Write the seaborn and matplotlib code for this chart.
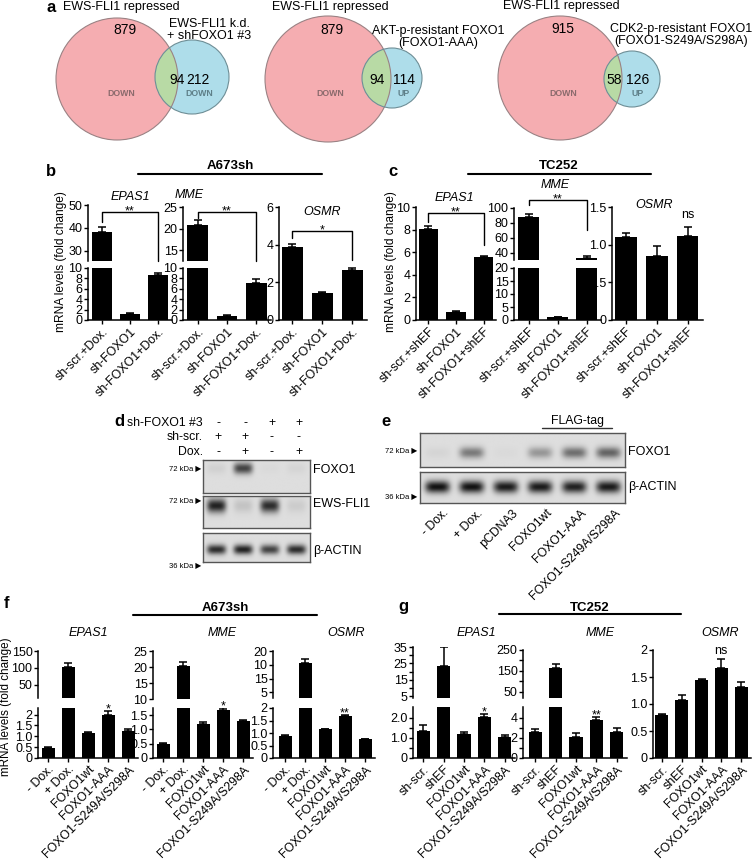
import numpy as np
import pandas as pd
import matplotlib
matplotlib.use('Agg')
import matplotlib.pyplot as plt
import seaborn as sns
from matplotlib.patches import Circle
from matplotlib.lines import Line2D

# ------------------------------------------------------------------ data
# panel a (Venn counts)
venn_left_counts = [879, 879, 915]
venn_overlap_counts = [94, 94, 58]
venn_right_counts = [212, 114, 126]
venn_left_titles = ['EWS-FLI1 repressed', 'EWS-FLI1 repressed', 'EWS-FLI1 repressed']
venn_right_titles = ['EWS-FLI1 k.d.\n+ shFOXO1 #3', 'AKT-p-resistant FOXO1\n(FOXO1-AAA)',
                     'CDK2-p-resistant FOXO1\n(FOXO1-S249A/S298A)']
venn_left_dir = ['DOWN', 'DOWN', 'DOWN']
venn_right_dir = ['DOWN', 'UP', 'UP']

# panel b  (A673sh)
b_groups = ['sh-scr.+Dox.', 'sh-FOXO1', 'sh-FOXO1+Dox.']
b_epas1 = [38.0, 1.2, 8.7]
b_epas1_err = [2.3, 0.1, 0.3]
b_mme = [20.9, 0.8, 7.1]
b_mme_err = [1.0, 0.1, 0.7]
b_osmr = [3.9, 1.45, 2.65]
b_osmr_err = [0.15, 0.06, 0.12]

# panel c  (TC252)
c_groups = ['sh-scr.+shEF', 'sh-FOXO1', 'sh-FOXO1+shEF']
c_epas1 = [8.05, 0.75, 5.55]
c_epas1_err = [0.25, 0.05, 0.15]
c_mme = [88.0, 1.0, 33.0]
c_mme_err = [4.0, 0.1, 2.5]
c_osmr = [1.10, 0.85, 1.11]
c_osmr_err = [0.05, 0.13, 0.13]

# panel f  (A673sh)
f_groups = ['- Dox.', '+ Dox.', 'FOXO1wt', 'FOXO1-AAA', 'FOXO1-S249A/S298A']
f_epas1 = [0.48, 103.0, 1.15, 2.0, 1.25]
f_epas1_err = [0.03, 10.0, 0.05, 0.17, 0.1]
f_mme = [0.48, 20.3, 1.2, 1.68, 1.28]
f_mme_err = [0.06, 1.2, 0.06, 0.08, 0.06]
f_osmr = [0.9, 15.6, 1.15, 1.68, 0.75]
f_osmr_err = [0.02, 1.5, 0.02, 0.05, 0.02]

# panel g  (TC252)
g_groups = ['sh-scr.', 'shEF', 'FOXO1wt', 'FOXO1-AAA', 'FOXO1-S249A/S298A']
g_epas1 = [1.35, 23.7, 1.22, 2.07, 1.05]
g_epas1_err = [0.3, 11.5, 0.08, 0.15, 0.08]
g_mme = [2.65, 163.0, 2.1, 3.85, 2.6]
g_mme_err = [0.25, 22.0, 0.45, 0.25, 0.4]
g_osmr = [0.79, 1.08, 1.44, 1.67, 1.32]
g_osmr_err = [0.02, 0.09, 0.03, 0.16, 0.09]

# western blots (relative band intensities per lane)
d_rows = ['sh-FOXO1 #3', 'sh-scr.', 'Dox.']
d_signs = [['-', '-', '+', '+'], ['+', '+', '-', '-'], ['-', '+', '-', '+']]
d_foxo1 = [0.06, 0.70, 0.02, 0.04]
d_ewsfli1 = [0.85, 0.12, 0.80, 0.08]
d_actin = [0.80, 0.85, 0.70, 0.80]
e_lanes = ['- Dox.', '+ Dox.', 'pCDNA3', 'FOXO1wt', 'FOXO1-AAA', 'FOXO1-S249A/S298A']
e_foxo1 = [0.04, 0.45, 0.02, 0.32, 0.50, 0.55]
e_actin = [0.92, 0.92, 0.88, 0.88, 0.85, 0.88]

# ------------------------------------------------------------------ style
sns.set_style('ticks')
plt.rcParams['font.family'] = ['Liberation Sans', 'DejaVu Sans']
plt.rcParams.update({
    'axes.linewidth': 1.1, 'axes.edgecolor': 'black',
    'xtick.color': 'black', 'ytick.color': 'black',
    'xtick.major.width': 1.0, 'ytick.major.width': 1.0,
    'xtick.major.size': 3, 'ytick.major.size': 3,
    'xtick.major.pad': 1, 'ytick.major.pad': 1,
    'text.color': 'black',
})

W, H = 752, 860
fig = plt.figure(figsize=(W / 100, H / 100), dpi=100)
fig.patch.set_facecolor('white')


def fx(x):
    return x / W


def fy(y):
    return 1 - y / H


def add_ax(x0, y0, x1, y1):
    return fig.add_axes([fx(x0), fy(y1), (x1 - x0) / W, (y1 - y0) / H])


def ftext(x, y, s, **kw):
    kw.setdefault('ha', 'center')
    kw.setdefault('va', 'center')
    return fig.text(fx(x), fy(y), s, **kw)


def fline(x0, x1, y, lw=1.5, color='black'):
    fig.add_artist(Line2D([fx(x0), fx(x1)], [fy(y), fy(y)], transform=fig.transFigure,
                          color=color, lw=lw))


TICK_FS = 9
XL_FS = 8.9
TITLE_FS = 9


def fmt(v):
    if v == 0:
        return '0'
    if float(v).is_integer() and abs(v) >= 2:
        return str(int(v))
    return f'{v:.1f}'


def draw_bars(ax, groups, vals, errs, width, xlim, ylim, ticks, labels=None):
    sns.barplot(x=groups, y=vals, color='black', width=width, errorbar=None,
                saturation=1, ax=ax, linewidth=0)
    idx = np.arange(len(groups))
    ax.errorbar(idx, vals, yerr=[np.zeros(len(vals)), errs], fmt='none', ecolor='black',
                elinewidth=1.1, capsize=3, capthick=1.1)
    ax.set_xlim(*xlim)
    ax.set_ylim(*ylim)
    ax.set_yticks(ticks)
    ax.set_yticklabels(labels if labels is not None else [fmt(t) for t in ticks])
    ax.tick_params(axis='y', labelsize=TICK_FS)
    ax.set_xlabel('')
    ax.set_ylabel('')
    sns.despine(ax=ax)
    ax.set_facecolor('none')


def set_xlabels(ax, groups):
    ax.set_xticks(np.arange(len(groups)))
    ax.set_xticklabels(groups, rotation=45, ha='right', rotation_mode='anchor', fontsize=XL_FS)


def single(x0, x1, y0, y1, groups, vals, errs, width, xlim, ylim, ticks, labels=None):
    ax = add_ax(x0, y0, x1, y1)
    draw_bars(ax, groups, vals, errs, width, xlim, ylim, ticks, labels)
    set_xlabels(ax, groups)
    return ax


def broken(x0, x1, top_px, bot_px, groups, vals, errs, width, xlim,
           ylim_t, ticks_t, ylim_b, ticks_b, labels_t=None, labels_b=None):
    axt = add_ax(x0, top_px[0], x1, top_px[1])
    axb = add_ax(x0, bot_px[0], x1, bot_px[1])
    draw_bars(axt, groups, vals, errs, width, xlim, ylim_t, ticks_t, labels_t)
    draw_bars(axb, groups, vals, errs, width, xlim, ylim_b, ticks_b, labels_b)
    axt.spines['bottom'].set_visible(False)
    axt.tick_params(axis='x', bottom=False, labelbottom=False)
    set_xlabels(axb, groups)
    return axt, axb


def bracket(ax, i0, i1, y, yl0, yl1, txt, fs=9):
    ax.plot([i0, i0, i1, i1], [yl0, y, y, yl1], color='black', lw=1.0, clip_on=False)
    ax.annotate(txt, xy=((i0 + i1) / 2, y), xytext=(0, -1.8), textcoords='offset points',
                ha='center', va='baseline', fontsize=fs, annotation_clip=False)


def star(ax, i, y, txt, fs=9, dy=-1.0):
    ax.annotate(txt, xy=(i, y), xytext=(0, dy), textcoords='offset points',
                ha='center', va='baseline', fontsize=fs, annotation_clip=False)


# ------------------------------------------------------------------ panel a (Venn)
axa = add_ax(0, 0, W, 150)
axa.set_xlim(0, W)
axa.set_ylim(150, 0)
axa.axis('off')
venn_geom = [((117, 79, 61), (192, 77, 37)),
             ((328, 79, 63), (392, 78, 30)),
             ((560, 78, 62), (632, 79, 28))]
RED, BLUE, GREEN = '#F5ADB1', '#AEDDEA', '#B8DAA5'
for k, ((rx, ry, rr), (bx, by, br)) in enumerate(venn_geom):
    red = Circle((rx, ry), rr, facecolor=RED, edgecolor='none', zorder=1)
    blue = Circle((bx, by), br, facecolor=BLUE, edgecolor='none', zorder=2)
    axa.add_patch(red)
    axa.add_patch(blue)
    green = Circle((bx, by), br, facecolor=GREEN, edgecolor='none', zorder=3)
    axa.add_patch(green)
    green.set_clip_path(Circle((rx, ry), rr, transform=axa.transData))
    axa.add_patch(Circle((rx, ry), rr, facecolor='none', edgecolor='#9A8284', lw=0.8, zorder=4))
    axa.add_patch(Circle((bx, by), br, facecolor='none', edgecolor='#6E8E96', lw=0.8, zorder=4))

venn_txt = [
    dict(lt=(121, 7), ln=(125, 30), ld=(121, 93), ov=(177, 80), rn=(198, 80), rd=(199, 93), rt=(209, 30)),
    dict(lt=(330, 7), ln=(332, 30), ld=(330, 93), ov=(377, 80), rn=(404, 80), rd=(404, 93), rt=(438, 37)),
    dict(lt=(561, 6), ln=(563, 29), ld=(563, 93), ov=(614, 80), rn=(638, 80), rd=(638, 93), rt=(681, 35)),
]
for k, p in enumerate(venn_txt):
    axa.text(*p['lt'], venn_left_titles[k], ha='center', va='center', fontsize=9, zorder=6)
    axa.text(*p['ln'], str(venn_left_counts[k]), ha='center', va='center', fontsize=10, zorder=6)
    axa.text(*p['ld'], venn_left_dir[k], ha='center', va='center', fontsize=6.3,
             fontweight='bold', color='#8A6A6C', zorder=6)
    axa.text(*p['ov'], str(venn_overlap_counts[k]), ha='center', va='center', fontsize=10, zorder=6)
    axa.text(*p['rn'], str(venn_right_counts[k]), ha='center', va='center', fontsize=10, zorder=6)
    axa.text(*p['rd'], venn_right_dir[k], ha='center', va='center', fontsize=6.3,
             fontweight='bold', color='#5E7F88', zorder=6)
    axa.text(*p['rt'], venn_right_titles[k], ha='center', va='center', fontsize=9,
             linespacing=1.1, zorder=6)

# ------------------------------------------------------------------ panel letters & headers
for letter, (x, y) in zip('abcdefg', [(51, 7), (51, 172), (393, 171), (119, 422),
                                       (386, 422), (7, 603), (403, 607)]):
    ftext(x, y, letter, fontsize=12, fontweight='bold')

ftext(230, 166, 'A673sh', fontsize=9.5, fontweight='bold')
fline(138, 322, 174)
ftext(559, 166, 'TC252', fontsize=9.5, fontweight='bold')
fline(468, 651, 174)
ftext(225, 608, 'A673sh', fontsize=9.5, fontweight='bold')
fline(133, 317, 615)
ftext(590, 608, 'TC252', fontsize=9.5, fontweight='bold')
fline(499, 681, 614)

YL = 'mRNA levels (fold change)'
ftext(61, 262, YL, rotation=90, fontsize=8.6)
ftext(391, 262, YL, rotation=90, fontsize=8.6)
ftext(6, 707, YL, rotation=90, fontsize=8.4)

# ------------------------------------------------------------------ panel b
axt, axb = broken(88, 172, (205, 261), (268, 320), b_groups, b_epas1, b_epas1_err, 0.7,
                  (-0.5, 2.5), (25.5, 50), [30, 40, 50], (0, 10), [0, 2, 4, 6, 8, 10])
bracket(axt, 0, 2, 46.9, 42.6, 25.5, '**')
ftext(130, 197, 'EPAS1', fontsize=TITLE_FS, style='italic')

axt, axb = broken(183, 271, (207, 261), (268, 320), b_groups, b_mme, b_mme_err, 0.7,
                  (-0.5, 2.5), (12.5, 25), [15, 20, 25], (0, 10), [0, 2, 4, 6, 8, 10])
bracket(axt, 0, 2, 23.9, 22.5, 12.5, '**')
ftext(189, 195, 'MME', fontsize=TITLE_FS, style='italic')

ax = single(279, 367, 207, 320, b_groups, b_osmr, b_osmr_err, 0.7, (-0.45, 2.5), (0, 6), [0, 2, 4, 6])
bracket(ax, 0, 2, 4.74, 4.35, 3.19, '*')
ftext(322, 212, 'OSMR', fontsize=TITLE_FS, style='italic')

# ------------------------------------------------------------------ panel c
ax = single(416, 496, 207, 320, c_groups, c_epas1, c_epas1_err, 0.7, (-0.45, 2.45), (0, 10),
            [0, 2, 4, 6, 8, 10])
bracket(ax, 0, 2, 9.44, 8.7, 6.64, '**')
ftext(454, 198, 'EPAS1', fontsize=TITLE_FS, style='italic')

axt, axb = broken(514, 601, (208, 260), (268, 320), c_groups, c_mme, c_mme_err, 0.7,
                  (-0.5, 2.5), (30, 100), [40, 60, 80, 100], (0, 20), [0, 5, 10, 15, 20])
bracket(axt, 0, 2, 110.8, 104.0, 70.4, '**')
ftext(555, 185, 'MME', fontsize=TITLE_FS, style='italic')

ax = single(612, 703, 207, 320, c_groups, c_osmr, c_osmr_err, 0.7, (-0.45, 2.5), (0, 1.5),
            [0, 0.5, 1.0, 1.5])
star(ax, 2, 1.355, 'ns', dy=0)
ftext(654, 205, 'OSMR', fontsize=TITLE_FS, style='italic')

# ------------------------------------------------------------------ panel f
axt, axb = broken(38, 138, (651, 698), (708, 758), f_groups, f_epas1, f_epas1_err, 0.65,
                  (-0.5, 4.5), (10, 150), [50, 100, 150], (0, 2.3), [0, 0.5, 1.0, 1.5, 2.0])
star(axb, 3, f_epas1[3] + f_epas1_err[3], '*')
ftext(88, 633, 'EPAS1', fontsize=TITLE_FS, style='italic')

axt, axb = broken(153, 253, (651, 699), (708, 758), f_groups, f_mme, f_mme_err, 0.65,
                  (-0.5, 4.5), (10, 25), [10, 15, 20, 25], (0, 1.75), [0, 0.5, 1.0, 1.5])
star(axb, 3, f_mme[3] + f_mme_err[3], '*')
ftext(222, 633, 'MME', fontsize=TITLE_FS, style='italic')

f_osmr_top_labels = ['5', '15', '10', '20']
axt, axb = broken(273, 375, (651, 698), (708, 758), f_groups, f_osmr, f_osmr_err, 0.65,
                  (-0.6, 4.5), (3, 20), [5, 10, 15, 20], (0, 2.0), [0, 0.5, 1.0, 1.5, 2.0],
                  labels_t=f_osmr_top_labels)
star(axb, 3, f_osmr[3] + f_osmr_err[3], '**')
ftext(346, 633, 'OSMR', fontsize=TITLE_FS, style='italic')

# ------------------------------------------------------------------ panel g
axt, axb = broken(413, 515, (647, 698), (707, 758), g_groups, g_epas1, g_epas1_err, 0.65,
                  (-0.5, 4.5), (4, 35), [5, 10, 15, 20, 25, 30, 35], (0, 2.55), [0, 0.5, 1.0, 1.5, 2.0],
                  labels_t=['5', '', '15', '', '25', '', '35'], labels_b=['0', '', '1.0', '', '2.0'])
star(axb, 3, g_epas1[3] + g_epas1_err[3], '*')
ftext(476, 633, 'EPAS1', fontsize=TITLE_FS, style='italic')

axt, axb = broken(523, 627, (650, 698), (707, 758), g_groups, g_mme, g_mme_err, 0.65,
                  (-0.6, 4.5), (20, 250), [50, 100, 150, 200, 250], (0, 5.1), [0, 1, 2, 3, 4],
                  labels_t=['50', '', '150', '', '250'], labels_b=['0', '', '2', '', '4'])
star(axb, 3, g_mme[3] + g_mme_err[3], '**')
ftext(600, 633, 'MME', fontsize=TITLE_FS, style='italic')

ax = single(653, 751, 650, 758, g_groups, g_osmr, g_osmr_err, 0.65, (-0.45, 4.5), (0, 2.0),
            [0, 0.5, 1.0, 1.5, 2.0])
star(ax, 3, 1.93, 'ns', dy=0)
ftext(720, 633, 'OSMR', fontsize=TITLE_FS, style='italic')


# ------------------------------------------------------------------ western blots
def blot(x0, y0, x1, y1, intens, band_y, band_h=0.17, band_w=0.36, bg=0.87):
    axx = add_ax(x0, y0, x1, y1)
    nx, ny = 240, 60
    X, Y = np.meshgrid(np.linspace(0, 1, nx), np.linspace(0, 1, ny))
    img = np.full((ny, nx), bg)
    n = len(intens)
    for i, v in enumerate(intens):
        cx = (i + 0.5) / n
        img -= v * bg * np.exp(-np.abs((X - cx) / (band_w / n)) ** 4) * \
            np.exp(-((Y - band_y) / band_h) ** 2)
    axx.imshow(img, cmap='gray', vmin=0, vmax=1, extent=(0, 1, 1, 0), aspect='auto',
               interpolation='bilinear')
    axx.set_xlim(0, 1)
    axx.set_ylim(1, 0)
    axx.set_xticks([])
    axx.set_yticks([])
    for s in axx.spines.values():
        s.set_visible(True)
        s.set_color('#555555')
        s.set_linewidth(1.0)
    return axx


# panel d
d_x0, d_x1 = 203, 310
blot(d_x0, 460, d_x1, 493, d_foxo1, 0.27)
blot(d_x0, 496, d_x1, 528, d_ewsfli1, 0.30, band_h=0.22)
blot(d_x0, 533, d_x1, 562, d_actin, 0.57)
for r, (lab, y) in enumerate(zip(d_rows, [423, 437, 452])):
    ftext(203, y, lab, ha='right', fontsize=8.8)
    for i, s in enumerate(d_signs[r]):
        ftext(d_x0 + (i + 0.5) * (d_x1 - d_x0) / 4 + 2, y, s, fontsize=8.8)
ftext(313, 470, 'FOXO1', ha='left', fontsize=9)
ftext(313, 504, 'EWS-FLI1', ha='left', fontsize=9)
ftext(313, 551, 'β-ACTIN', ha='left', fontsize=9)
ftext(201, 470, '72 kDa ▶', ha='right', fontsize=5.5)
ftext(201, 502, '72 kDa ▶', ha='right', fontsize=5.5)
ftext(201, 567, '36 kDa ▶', ha='right', fontsize=5.5)

# panel e
e_x0, e_x1 = 420, 625
blot(e_x0, 433, e_x1, 467, e_foxo1, 0.58)
blot(e_x0, 472, e_x1, 503, e_actin, 0.48, band_h=0.2)
ftext(578, 421, 'FLAG-tag', fontsize=8.8)
fline(542, 612, 428, lw=1.0, color='#333333')
ftext(628, 452, 'FOXO1', ha='left', fontsize=9)
ftext(628, 487, 'β-ACTIN', ha='left', fontsize=9)
ftext(417, 452, '72 kDa ▶', ha='right', fontsize=5.5)
ftext(417, 498, '36 kDa ▶', ha='right', fontsize=5.5)
for i, lab in enumerate(e_lanes):
    lx = e_x0 + (i + 0.5) * (e_x1 - e_x0) / 6 + 6
    fig.text(fx(lx), fy(507), lab, rotation=45, ha='right', va='top',
             rotation_mode='anchor', fontsize=8.8)

fig.savefig('out.png', dpi=100, facecolor='white')
